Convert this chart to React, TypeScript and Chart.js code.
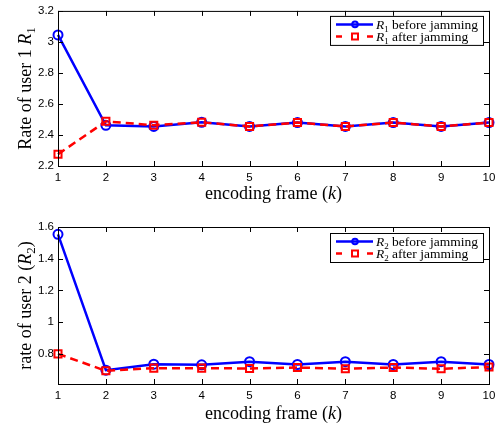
import React, { useEffect, useRef } from "react";
import { Chart, registerables } from "chart.js";
Chart.register(...registerables);

const frames = [1, 2, 3, 4, 5, 6, 7, 8, 9, 10];
const r1Before = [3.045, 2.462, 2.455, 2.482, 2.455, 2.48, 2.455, 2.48, 2.455, 2.48];
const r1After = [2.276, 2.488, 2.463, 2.482, 2.455, 2.48, 2.455, 2.48, 2.455, 2.48];
const r2Before = [1.554, 0.697, 0.735, 0.731, 0.751, 0.733, 0.751, 0.733, 0.751, 0.733];
const r2After = [0.8, 0.693, 0.71, 0.71, 0.708, 0.714, 0.706, 0.714, 0.706, 0.717];
const xTicks = [1, 2, 3, 4, 5, 6, 7, 8, 9, 10];
const y1Ticks = [2.2, 2.4, 2.6, 2.8, 3, 3.2];
const y2Ticks = [0.8, 1, 1.2, 1.4, 1.6];

type Seg = { t: string; italic?: boolean; sub?: boolean };
const SERIF = '"Liberation Serif", "DejaVu Serif", serif';
const SANS = '"Liberation Sans", Arial, sans-serif';

function segFont(s: Seg, size: number) {
  const sz = s.sub ? Math.round(size * 0.7) : size;
  return `${s.italic ? "italic " : ""}${sz}px ${SERIF}`;
}
function measureRich(ctx: CanvasRenderingContext2D, segs: Seg[], size: number) {
  let w = 0;
  for (const s of segs) {
    ctx.font = segFont(s, size);
    w += ctx.measureText(s.t).width;
  }
  return w;
}
function drawRich(ctx: CanvasRenderingContext2D, segs: Seg[], x: number, y: number, size: number) {
  ctx.textBaseline = "alphabetic";
  ctx.textAlign = "left";
  ctx.fillStyle = "#000";
  let cx = x;
  for (const s of segs) {
    ctx.font = segFont(s, size);
    ctx.fillText(s.t, cx, y + (s.sub ? size * 0.22 : 0));
    cx += ctx.measureText(s.t).width;
  }
}

const frameBox = {
  id: "frameBox",
  afterDatasetsDraw(chart: any) {
    const { ctx, chartArea: a, scales } = chart;
    ctx.save();
    ctx.strokeStyle = "#000";
    ctx.lineWidth = 1;
    ctx.strokeRect(a.left + 0.5, a.top + 0.5, a.right - a.left, a.bottom - a.top);
    const tl = 5;
    ctx.beginPath();
    for (const t of scales.x.ticks) {
      const px = Math.round(scales.x.getPixelForValue(t.value)) + 0.5;
      ctx.moveTo(px, a.bottom);
      ctx.lineTo(px, a.bottom - tl);
      ctx.moveTo(px, a.top);
      ctx.lineTo(px, a.top + tl);
    }
    for (const t of scales.y.ticks) {
      const py = Math.round(scales.y.getPixelForValue(t.value)) + 0.5;
      ctx.moveTo(a.left, py);
      ctx.lineTo(a.left + tl, py);
      ctx.moveTo(a.right, py);
      ctx.lineTo(a.right - tl, py);
    }
    ctx.stroke();
    ctx.restore();
  },
  afterDraw(chart: any) {
    const o = chart.options.plugins.frameBox;
    const { ctx, chartArea: a } = chart;
    ctx.save();
    const ys = 18;
    const yw = measureRich(ctx, o.yTitle, ys);
    ctx.translate(o.yTitleX, (a.top + a.bottom) / 2);
    ctx.rotate(-Math.PI / 2);
    drawRich(ctx, o.yTitle, -yw / 2, ys * 0.33, ys);
    ctx.restore();
    ctx.save();
    const xw = measureRich(ctx, o.xTitle, ys);
    drawRich(ctx, o.xTitle, (a.left + a.right) / 2 - xw / 2, a.bottom + o.xTitleDy, ys);
    ctx.restore();

    // legend
    ctx.save();
    const bw = 153, bh = 29;
    const bx = a.right - 6 - bw;
    const by = a.top + o.legendDy;
    ctx.fillStyle = "#fff";
    ctx.fillRect(bx, by, bw, bh);
    ctx.strokeStyle = "#000";
    ctx.lineWidth = 1;
    ctx.strokeRect(bx + 0.5, by + 0.5, bw, bh);
    o.legend.forEach((it: any, i: number) => {
      const cy = by + 8.5 + i * 12;
      const mx = bx + 25;
      ctx.strokeStyle = it.color;
      ctx.lineWidth = 2.5;
      if (it.marker === "circle") {
        ctx.beginPath();
        ctx.moveTo(bx + 6, cy);
        ctx.lineTo(bx + 43, cy);
        ctx.stroke();
        ctx.lineWidth = 2;
        ctx.beginPath();
        ctx.arc(mx, cy, 2.8, 0, Math.PI * 2);
        ctx.stroke();
      } else {
        ctx.beginPath();
        ctx.moveTo(bx + 6, cy);
        ctx.lineTo(bx + 12, cy);
        ctx.moveTo(bx + 37, cy);
        ctx.lineTo(bx + 43, cy);
        ctx.stroke();
        ctx.lineWidth = 2;
        ctx.beginPath();
        ctx.rect(mx - 3, cy - 3, 6, 6);
        ctx.stroke();
      }
      drawRich(ctx, it.label, bx + 46, cy + 4.5, 13.5);
    });
    ctx.restore();
  },
};

function makeConfig(
  before: number[],
  after: number[],
  yMin: number,
  yMax: number,
  yTicks: number[],
  padTop: number,
  xHeight: number,
  plugOpts: any
): any {
  const fmt = (v: number) => String(Math.round(v * 100) / 100);
  return {
    type: "line",
    data: {
      datasets: [
        {
          label: "before",
          data: frames.map((f, i) => ({ x: f, y: before[i] })),
          borderColor: "#0000ff",
          borderWidth: 2.5,
          pointStyle: "circle",
          pointRadius: 4.5,
          pointBorderWidth: 2,
          pointBorderColor: "#0000ff",
          pointBackgroundColor: "rgba(0,0,0,0)",
          clip: false,
          order: 1,
        },
        {
          label: "after",
          data: frames.map((f, i) => ({ x: f, y: after[i] })),
          borderColor: "#ff0000",
          borderWidth: 2.5,
          borderDash: [8, 5],
          pointStyle: "rect",
          pointRadius: 5,
          pointBorderWidth: 2,
          pointBorderColor: "#ff0000",
          pointBackgroundColor: "rgba(0,0,0,0)",
          clip: false,
          order: 0,
        },
      ],
    },
    options: {
      responsive: false,
      maintainAspectRatio: false,
      animation: false,
      layout: { padding: { left: 0, right: 12, top: padTop, bottom: 0 } },
      plugins: {
        legend: { display: false },
        tooltip: { enabled: false },
        frameBox: plugOpts,
      },
      scales: {
        x: {
          type: "linear",
          min: 1,
          max: 10,
          grid: { display: false, drawTicks: false },
          border: { display: false },
          afterBuildTicks: (s: any) => {
            s.ticks = xTicks.map((v) => ({ value: v }));
          },
          afterFit: (s: any) => {
            s.height = xHeight;
          },
          ticks: {
            color: "#000",
            font: { family: SANS, size: 11.5 },
            padding: 5,
            maxRotation: 0,
            autoSkip: false,
            callback: (v: number) => fmt(v),
          },
        },
        y: {
          type: "linear",
          min: yMin,
          max: yMax,
          grid: { display: false, drawTicks: false },
          border: { display: false },
          afterBuildTicks: (s: any) => {
            s.ticks = yTicks.map((v) => ({ value: v }));
          },
          afterFit: (s: any) => {
            s.width = 58;
          },
          ticks: {
            color: "#000",
            font: { family: SANS, size: 11.5 },
            padding: 4,
            autoSkip: false,
            callback: (v: number) => fmt(v),
          },
        },
      },
    },
    plugins: [frameBox],
  };
}

export default function App() {
  const topRef = useRef<HTMLCanvasElement>(null);
  const botRef = useRef<HTMLCanvasElement>(null);
  useEffect(() => {
    const c1 = new Chart(
      topRef.current as HTMLCanvasElement,
      makeConfig(r1Before, r1After, 2.2, 3.2, y1Ticks, 9, 44, {
        yTitleX: 25,
        xTitleDy: 33,
        legendDy: 5,
        yTitle: [{ t: "Rate of user 1 " }, { t: "R", italic: true }, { t: "1", sub: true }],
        xTitle: [{ t: "encoding frame (" }, { t: "k", italic: true }, { t: ")" }],
        legend: [
          { color: "#0000ff", marker: "circle", label: [{ t: "R", italic: true }, { t: "1", sub: true }, { t: " before jamming" }] },
          { color: "#ff0000", marker: "rect", label: [{ t: "R", italic: true }, { t: "1", sub: true }, { t: " after jamming" }] },
        ],
      })
    );
    const c2 = new Chart(
      botRef.current as HTMLCanvasElement,
      makeConfig(r2Before, r2After, 0.61, 1.6, y2Ticks, 17, 43, {
        yTitleX: 25,
        xTitleDy: 35,
        legendDy: 6,
        yTitle: [{ t: "rate of user 2 (" }, { t: "R", italic: true }, { t: "2", sub: true }, { t: ")" }],
        xTitle: [{ t: "encoding frame (" }, { t: "k", italic: true }, { t: ")" }],
        legend: [
          { color: "#0000ff", marker: "circle", label: [{ t: "R", italic: true }, { t: "2", sub: true }, { t: " before jamming" }] },
          { color: "#ff0000", marker: "rect", label: [{ t: "R", italic: true }, { t: "2", sub: true }, { t: " after jamming" }] },
        ],
      })
    );
    return () => {
      c1.destroy();
      c2.destroy();
    };
  }, []);
  return (
    <div style={{ position: "absolute", left: 0, top: 0, width: 501, height: 427, background: "#fff" }}>
      <canvas ref={topRef} width={501} height={210} style={{ display: "block", position: "absolute", left: 0, top: 0 }} />
      <canvas ref={botRef} width={501} height={217} style={{ display: "block", position: "absolute", left: 0, top: 210 }} />
    </div>
  );
}
